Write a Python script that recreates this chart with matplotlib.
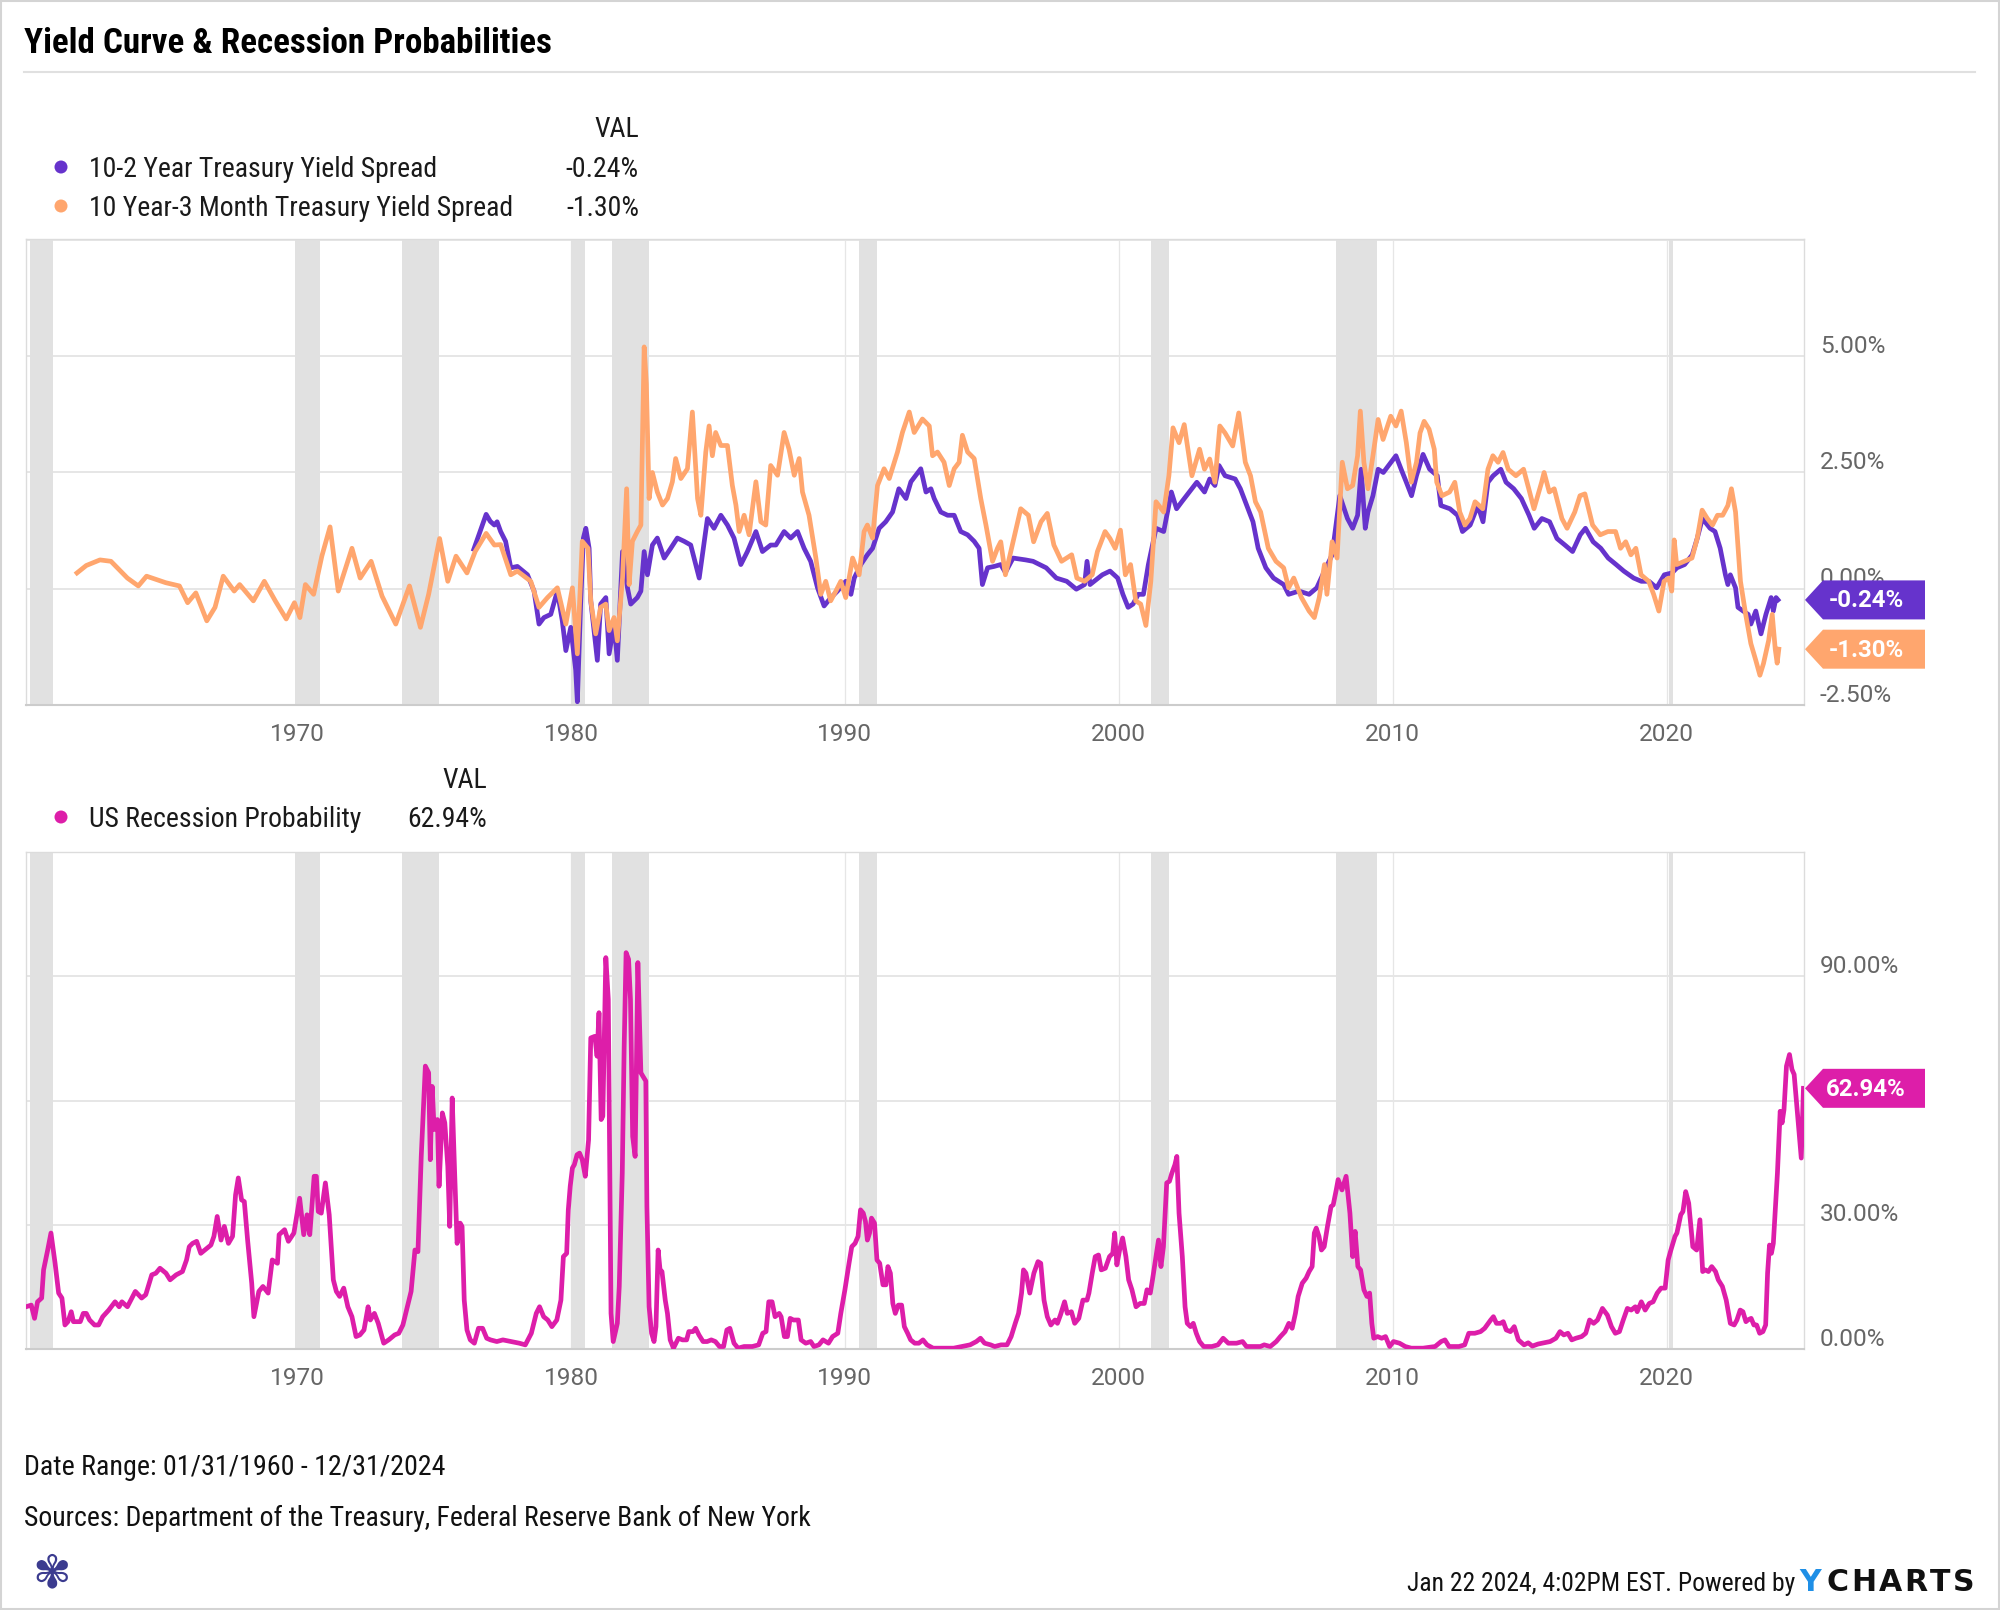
import matplotlib
matplotlib.use('Agg')
import matplotlib.pyplot as plt
from matplotlib import font_manager as fm
from matplotlib.transforms import IdentityTransform, blended_transform_factory, offset_copy
from matplotlib.patches import Polygon, Circle, Rectangle
from matplotlib.lines import Line2D

# ---------------- DATA ----------------
title = "Yield Curve & Recession Probabilities"
series_names = ["10-2 Year Treasury Yield Spread", "10 Year-3 Month Treasury Yield Spread", "US Recession Probability"]
x_tick_years = [1970, 1980, 1990, 2000, 2010, 2020]
top_y_ticks = [-2.5, 0.0, 2.5, 5.0, 7.5]
top_y_labels = [-2.5, 0.0, 2.5, 5.0]
bot_y_ticks = [0, 30, 60, 90]
bot_y_labels = [0, 30, 90]   # 60.00% sits under the value badge in the reference

recessions = [(1960.25, 1961.083), (1969.917, 1970.833), (1973.833, 1975.167), (1980.0, 1980.5),
              (1981.5, 1982.833), (1990.5, 1991.167), (2001.167, 2001.833), (2007.917, 2009.417),
              (2020.083, 2020.25)]

spread_10_2_dates = [1976.45, 1976.6, 1976.9, 1977.05, 1977.2, 1977.3, 1977.43, 1977.61, 1977.80, 1978.04,
    1978.41, 1978.65, 1978.83, 1979.01, 1979.26, 1979.50, 1979.68, 1979.81, 1979.99, 1980.17, 1980.23,
    1980.35, 1980.45, 1980.54, 1980.66, 1980.72, 1980.96, 1981.08, 1981.27, 1981.39, 1981.57, 1981.69,
    1981.88, 1982.06, 1982.18, 1982.42, 1982.55, 1982.67, 1982.79, 1982.97, 1983.15, 1983.40, 1983.64,
    1983.88, 1984.13, 1984.37, 1984.68, 1984.98, 1985.22, 1985.47, 1985.71, 1985.95, 1986.20, 1986.44,
    1986.75, 1986.99, 1987.29, 1987.48, 1987.78, 1988.02, 1988.27, 1988.51, 1988.75, 1989.00, 1989.24,
    1989.49, 1989.73, 1990.03, 1990.22, 1990.34, 1990.58, 1990.82, 1991.01, 1991.25, 1991.49, 1991.74,
    1991.97, 1992.23, 1992.41, 1992.59, 1992.77, 1992.96, 1993.14, 1993.26, 1993.50, 1993.75, 1993.99,
    1994.23, 1994.48, 1994.72, 1994.90, 1995.02, 1995.21, 1995.45, 1995.69,
    1995.86, 1996.14, 1996.6, 1996.87, 1997.35, 1997.72, 1998.1, 1998.45, 1998.75, 1998.84, 1998.95,
    1999.4, 1999.68, 1999.96, 2000.15, 2000.34, 2000.52, 2000.71, 2000.9, 2001.08, 2001.36, 2001.64,
    2001.92, 2002.11, 2002.3, 2002.67, 2002.85, 2003.13, 2003.32, 2003.51, 2003.66, 2003.88, 2004.25,
    2004.44, 2004.72, 2004.9, 2005.09, 2005.37, 2005.65, 2006.02, 2006.2, 2006.58, 2006.95, 2007.23,
    2007.51, 2007.79, 2008.07, 2008.35, 2008.54, 2008.72, 2008.85, 2009.0, 2009.1, 2009.28, 2009.47,
    2009.66, 2009.94, 2010.12, 2010.31, 2010.5, 2010.69, 2010.87, 2011.11, 2011.35, 2011.63, 2011.76,
    2012.09, 2012.37, 2012.55, 2012.83, 2013.11, 2013.3, 2013.48, 2013.67, 2013.95, 2014.14, 2014.42,
    2014.7, 2014.98, 2015.17, 2015.45, 2015.73, 2016.0, 2016.29, 2016.57, 2016.85, 2017.04, 2017.32,
    2017.6, 2017.87, 2018.16, 2018.44, 2018.8, 2019.08, 2019.36, 2019.64, 2019.92, 2020.2, 2020.38,
    2020.66, 2020.94, 2021.12, 2021.31, 2021.59, 2021.77, 2021.96, 2022.15, 2022.24, 2022.33, 2022.52,
    2022.61, 2022.8, 2022.98, 2023.08, 2023.26, 2023.45, 2023.63, 2023.82, 2023.9, 2024.0, 2024.07]
spread_10_2_values = [0.85, 1.10, 1.60, 1.45, 1.37, 1.44, 1.23, 1.02, 0.45, 0.48,
    0.30, -0.05, -0.76, -0.62, -0.55, -0.05, -0.69, -1.33, -0.83, -1.75, -2.43,
    -0.33, 1.09, 1.30, 0.87, -0.26, -1.54, -0.33, -0.19, -1.40, -0.76, -1.54,
    0.80, 0.02, -0.33, -0.19, -0.05, 0.80, 0.30, 0.94, 1.09, 0.66, 0.87,
    1.09, 1.02, 0.94, 0.23, 1.51, 1.30, 1.58, 1.37, 1.09, 0.52, 0.80,
    1.23, 0.80, 0.94, 0.94, 1.23, 1.09, 1.23, 0.87, 0.59, 0.02, -0.37,
    -0.19, -0.05, 0.16, -0.12, 0.23, 0.52, 0.73, 0.87, 1.30, 1.44, 1.65,
    2.15, 1.94, 2.30, 2.44, 2.58, 2.08, 2.15, 1.94, 1.65, 1.58, 1.58,
    1.23, 1.16, 1.02, 0.87, 0.09, 0.45, 0.48, 0.52,
    0.35, 0.66, 0.62, 0.59, 0.45, 0.23, 0.16, -0.01, 0.09, 0.59, 0.09,
    0.30, 0.38, 0.23, -0.12, -0.40, -0.33, -0.12, -0.12, 0.52, 1.30, 1.23,
    2.08, 1.72, 1.87, 2.15, 2.29, 2.08, 2.36, 2.22, 2.65, 2.43, 2.36,
    2.15, 1.72, 1.44, 0.87, 0.45, 0.23, 0.09, -0.12, -0.05, -0.12, 0.02,
    0.38, 0.73, 2.00, 1.51, 1.30, 1.58, 2.57, 1.30, 1.65, 2.00, 2.57,
    2.50, 2.72, 2.86, 2.57, 2.29, 2.00, 2.43, 2.89, 2.57, 2.43, 1.79,
    1.72, 1.58, 1.23, 1.37, 1.79, 1.44, 2.29, 2.43, 2.57, 2.29, 2.15,
    1.94, 1.58, 1.30, 1.51, 1.44, 1.08, 0.94, 0.80, 1.16, 1.30, 1.01,
    0.87, 0.66, 0.52, 0.38, 0.23, 0.16, 0.16, 0.02, 0.30, 0.34, 0.45,
    0.52, 0.73, 1.08, 1.51, 1.30, 1.23, 0.87, 0.30, 0.09, 0.30, 0.02,
    -0.40, -0.48, -0.55, -0.76, -0.48, -0.97, -0.55, -0.19, -0.48, -0.19, -0.24]

spread_10y_3m_dates = [1961.96, 1962.3, 1962.8, 1963.2, 1963.8, 1964.2, 1964.5, 1965.2, 1965.7, 1966.0,
    1966.3, 1966.7, 1967.0, 1967.3, 1967.7, 1967.9, 1968.4, 1968.8, 1969.2, 1969.6, 1969.9, 1970.1,
    1970.3, 1970.6, 1970.9, 1971.2, 1971.5, 1972.0, 1972.3, 1972.7, 1973.1, 1973.6, 1974.1, 1974.5,
    1974.8, 1975.2, 1975.5, 1975.8, 1976.2, 1976.5, 1976.9, 1977.2,
    1977.43, 1977.80, 1978.04, 1978.53, 1978.83, 1979.14, 1979.50, 1979.81, 1980.05, 1980.23, 1980.41,
    1980.62, 1980.72, 1980.90, 1981.08, 1981.27, 1981.39, 1981.57, 1981.69, 1981.88, 1982.03, 1982.12,
    1982.24, 1982.42, 1982.55, 1982.67, 1982.75, 1982.85, 1982.97, 1983.15, 1983.34, 1983.52, 1983.70,
    1983.82, 1984.01, 1984.25, 1984.43, 1984.62, 1984.74, 1984.92, 1985.04, 1985.16, 1985.28, 1985.47,
    1985.71, 1985.89, 1986.02, 1986.14, 1986.32, 1986.50, 1986.75, 1986.93, 1987.11, 1987.29, 1987.54,
    1987.78, 1987.96, 1988.15, 1988.33, 1988.45, 1988.69, 1988.94, 1989.12, 1989.30, 1989.48, 1989.67,
    1989.85, 1990.03, 1990.28, 1990.52, 1990.70, 1990.82, 1991.01, 1991.19, 1991.43, 1991.62, 1991.92,
    1992.10, 1992.35, 1992.53, 1992.83, 1993.08, 1993.20, 1993.38, 1993.62, 1993.81, 1993.99, 1994.17,
    1994.29, 1994.48, 1994.72, 1994.96, 1995.15, 1995.39, 1995.57,
    1995.69, 1995.86, 1996.14, 1996.42, 1996.7, 1996.89, 1997.16, 1997.39, 1997.63, 1997.91, 1998.28,
    1998.47, 1998.75, 1999.03, 1999.22, 1999.5, 1999.68, 1999.87, 2000.06, 2000.24, 2000.43, 2000.62,
    2000.8, 2000.99, 2001.17, 2001.36, 2001.64, 2001.83, 2001.98, 2002.2, 2002.39, 2002.67, 2002.95,
    2003.13, 2003.32, 2003.51, 2003.69, 2003.88, 2004.16, 2004.38, 2004.62, 2004.81, 2004.99, 2005.18,
    2005.46, 2005.74, 2006.02, 2006.2, 2006.39, 2006.67, 2006.95, 2007.14, 2007.32, 2007.51, 2007.6,
    2007.79, 2007.97, 2008.16, 2008.35, 2008.54, 2008.72, 2008.82, 2008.95, 2009.1, 2009.28, 2009.47,
    2009.65, 2009.93, 2010.12, 2010.31, 2010.5, 2010.68, 2010.87, 2011.0, 2011.15, 2011.33, 2011.52,
    2011.61, 2011.8, 2012.08, 2012.27, 2012.45, 2012.64, 2012.82, 2013.01, 2013.29, 2013.48, 2013.66,
    2013.85, 2014.03, 2014.22, 2014.5, 2014.78, 2014.97, 2015.16, 2015.44, 2015.53, 2015.72, 2015.9,
    2016.18, 2016.37, 2016.65, 2016.84, 2017.02, 2017.3, 2017.58, 2017.86, 2018.14, 2018.32, 2018.51,
    2018.7, 2018.88, 2019.07, 2019.35, 2019.53, 2019.72, 2019.91, 2020.09, 2020.19, 2020.28, 2020.37,
    2020.65, 2020.93, 2021.12, 2021.3, 2021.49, 2021.68, 2021.86, 2022.05, 2022.24, 2022.37, 2022.52,
    2022.7, 2022.89, 2023.08, 2023.26, 2023.41, 2023.54, 2023.73, 2023.86, 2023.97, 2024.04, 2024.1]
spread_10y_3m_values = [0.34, 0.50, 0.62, 0.59, 0.23, 0.06, 0.27, 0.13, 0.06, -0.30,
    -0.09, -0.69, -0.40, 0.27, -0.05, 0.09, -0.26, 0.16, -0.26, -0.65, -0.30, -0.62,
    0.09, -0.12, 0.70, 1.33, -0.05, 0.87, 0.23, 0.59, -0.16, -0.76, 0.06, -0.83,
    -0.12, 1.08, 0.16, 0.70, 0.34, 0.80, 1.19, 0.94,
    0.95, 0.30, 0.38, 0.16, -0.40, -0.19, 0.02, -0.76, 0.02, -1.40, 1.02,
    0.87, -0.26, -0.97, -0.40, -0.33, -0.90, -0.62, -1.12, 0.23, 2.15, 0.09,
    1.02, 1.23, 1.37, 5.20, 4.40, 1.94, 2.50, 2.08, 1.80, 1.94, 2.30,
    2.80, 2.37, 2.58, 3.80, 1.94, 1.58, 2.94, 3.50, 2.86, 3.36, 3.08,
    3.08, 2.22, 1.80, 1.23, 1.58, 1.16, 2.30, 1.44, 1.37, 2.65, 2.44,
    3.36, 3.00, 2.44, 2.80, 2.08, 1.58, 0.66, -0.12, 0.16, -0.26, -0.05,
    0.16, -0.19, 0.66, 0.30, 1.23, 1.37, 1.09, 2.22, 2.58, 2.37, 2.94,
    3.36, 3.80, 3.36, 3.65, 3.50, 2.86, 2.94, 2.72, 2.22, 2.58, 2.72,
    3.30, 2.94, 2.80, 1.94, 1.37, 0.59, 0.87,
    1.01, 0.30, 1.01, 1.72, 1.58, 1.01, 1.44, 1.62, 0.94, 0.59, 0.73,
    0.23, 0.16, 0.30, 0.80, 1.23, 1.08, 0.87, 1.26, 0.30, 0.52, -0.26,
    -0.33, -0.79, 0.16, 1.87, 1.65, 2.43, 3.46, 3.14, 3.53, 2.43, 3.00,
    2.57, 2.79, 2.29, 3.50, 3.35, 3.07, 3.78, 2.72, 2.43, 1.87, 1.65,
    0.87, 0.59, 0.45, 0.02, 0.23, -0.19, -0.48, -0.62, -0.19, 0.52, -0.12,
    1.01, 0.66, 2.72, 2.15, 2.22, 2.86, 3.82, 2.72, 2.15, 2.86, 3.64,
    3.21, 3.71, 3.50, 3.82, 3.14, 2.29, 2.72, 3.35, 3.60, 3.43, 3.00,
    2.29, 2.00, 2.08, 2.29, 1.65, 1.37, 1.51, 1.87, 1.72, 2.57, 2.86,
    2.72, 2.93, 2.57, 2.43, 2.57, 2.15, 1.72, 2.29, 2.50, 2.08, 2.15,
    1.51, 1.30, 1.65, 2.00, 2.04, 1.37, 1.16, 1.23, 1.23, 0.87, 1.01,
    0.73, 0.87, 0.30, 0.16, -0.12, -0.48, 0.16, 0.23, -0.05, 1.05, 0.52,
    0.59, 0.66, 1.08, 1.69, 1.51, 1.37, 1.58, 1.58, 1.79, 2.15, 1.65,
    0.16, -0.55, -1.18, -1.54, -1.86, -1.61, -1.11, -0.55, -1.30, -1.60, -1.30]

recession_prob_dates = [1960.10, 1960.29, 1960.41, 1960.52, 1960.67, 1960.74, 1960.89, 1961.01, 1961.16,
    1961.29, 1961.41, 1961.52, 1961.63, 1961.75, 1961.83, 1962.08, 1962.19, 1962.30, 1962.42, 1962.60,
    1962.75, 1962.90, 1963.12, 1963.35, 1963.50, 1963.60, 1963.80, 1964.09, 1964.32, 1964.47, 1964.69,
    1964.84, 1964.99, 1965.21, 1965.36, 1965.58, 1965.81, 1965.96, 1966.06, 1966.18, 1966.33, 1966.48,
    1966.63, 1966.85, 1966.96, 1967.08, 1967.22, 1967.34, 1967.49, 1967.64, 1967.75, 1967.85, 1967.97,
    1968.07, 1968.19, 1968.34, 1968.42, 1968.60, 1968.75, 1968.94, 1969.09, 1969.28, 1969.34, 1969.54,
    1969.68, 1969.88, 1970.09, 1970.24, 1970.36, 1970.46, 1970.62, 1970.70, 1970.77, 1970.88, 1971.03,
    1971.17, 1971.32, 1971.43, 1971.55, 1971.70, 1971.85, 1972.00, 1972.15, 1972.29, 1972.44, 1972.59,
    1972.67, 1972.82, 1972.96, 1973.16, 1973.34, 1973.56, 1973.71, 1973.86, 1974.01, 1974.16, 1974.30,
    1974.41, 1974.53, 1974.68, 1974.80, 1974.86, 1974.93, 1975.00, 1975.12, 1975.18, 1975.30, 1975.39,
    1975.50, 1975.57, 1975.66, 1975.75, 1975.84, 1975.95, 1976.02, 1976.10, 1976.20, 1976.32, 1976.47,
    1976.62, 1976.77, 1976.92, 1977.06, 1977.29, 1977.51, 1977.81, 1978.11, 1978.33, 1978.55, 1978.73,
    1978.85, 1979.00, 1979.15, 1979.30, 1979.48, 1979.63, 1979.72, 1979.84, 1979.90, 1979.97, 1980.05,
    1980.12, 1980.22, 1980.31, 1980.41, 1980.52, 1980.64, 1980.72, 1980.87, 1980.95, 1981.02, 1981.10,
    1981.16, 1981.27, 1981.36, 1981.46, 1981.54, 1981.69, 1981.76, 1981.87, 1981.94, 1982.01, 1982.10,
    1982.17, 1982.25, 1982.34, 1982.44, 1982.55, 1982.62, 1982.73, 1982.77, 1982.85, 1982.94, 1983.03,
    1983.10, 1983.18, 1983.25, 1983.32, 1983.44, 1983.52, 1983.62, 1983.74, 1983.92, 1984.07, 1984.22,
    1984.30, 1984.45, 1984.55, 1984.67, 1984.82, 1984.97, 1985.12, 1985.27, 1985.42, 1985.57, 1985.69,
    1985.80, 1985.95, 1986.10, 1986.32, 1986.62, 1986.85, 1987.00, 1987.12, 1987.22, 1987.34, 1987.45,
    1987.60, 1987.67, 1987.79, 1987.90, 1988.00, 1988.12, 1988.30, 1988.40, 1988.57, 1988.75, 1988.87,
    1989.05, 1989.20, 1989.40, 1989.55, 1989.74, 1989.85, 1990.00, 1990.15, 1990.25, 1990.37, 1990.48,
    1990.57, 1990.67, 1990.75, 1990.82, 1990.90, 1990.97, 1991.08, 1991.17, 1991.27, 1991.39, 1991.50,
    1991.57, 1991.66, 1991.75, 1991.84, 1991.95, 1992.07, 1992.17, 1992.29, 1992.40, 1992.55, 1992.70,
    1992.85, 1993.00, 1993.22, 1993.52, 1993.97, 1994.27, 1994.57, 1994.80, 1994.95, 1995.10, 1995.32,
    1995.47, 1995.70, 1995.92, 1996.07, 1996.22, 1996.34, 1996.45, 1996.52, 1996.61, 1996.75, 1996.90,
    1997.05, 1997.15, 1997.27, 1997.39, 1997.52, 1997.67, 1997.76, 1997.87, 1998.02, 1998.12, 1998.27,
    1998.39, 1998.54, 1998.69, 1998.84, 1998.91, 1999.03, 1999.14, 1999.26, 1999.36, 1999.51, 1999.66,
    1999.78, 1999.85, 1999.93, 2000.03, 2000.14, 2000.26, 2000.36, 2000.48, 2000.63, 2000.78, 2000.93,
    2001.03, 2001.15, 2001.23, 2001.45, 2001.54, 2001.63, 2001.75, 2001.85, 2001.94, 2002.05, 2002.12,
    2002.20, 2002.32, 2002.42, 2002.50, 2002.62, 2002.72, 2002.83, 2002.95, 2003.10, 2003.40, 2003.62,
    2003.81, 2004.00, 2004.30, 2004.52, 2004.66, 2005.17, 2005.31, 2005.53, 2005.75, 2005.90, 2006.07,
    2006.21, 2006.33, 2006.45, 2006.55, 2006.70, 2006.84, 2006.95, 2007.06, 2007.14, 2007.21, 2007.31,
    2007.40, 2007.50, 2007.62, 2007.75, 2007.83, 2007.94, 2008.01, 2008.15, 2008.30, 2008.44, 2008.54,
    2008.63, 2008.73, 2008.83, 2008.95, 2009.06, 2009.16, 2009.24, 2009.31, 2009.45, 2009.60, 2009.74,
    2009.89, 2010.03, 2010.25, 2010.46, 2010.68, 2011.11, 2011.55, 2011.77, 2011.91, 2012.06, 2012.42,
    2012.63, 2012.78, 2013.00, 2013.21, 2013.36, 2013.58, 2013.68, 2013.79, 2013.94, 2014.04, 2014.15,
    2014.30, 2014.44, 2014.59, 2014.80, 2014.95, 2015.10, 2015.31, 2015.53, 2015.75, 2015.96, 2016.11,
    2016.25, 2016.40, 2016.54, 2016.69, 2016.90, 2017.05, 2017.19, 2017.34, 2017.48, 2017.66, 2017.84,
    2017.99, 2018.13, 2018.28, 2018.42, 2018.57, 2018.71, 2018.86, 2018.93, 2019.08, 2019.22, 2019.37,
    2019.51, 2019.66, 2019.80, 2019.95, 2020.06, 2020.16, 2020.31, 2020.38, 2020.52, 2020.60, 2020.70,
    2020.81, 2020.96, 2021.10, 2021.22, 2021.32, 2021.42, 2021.53, 2021.65, 2021.79, 2021.89, 2022.04,
    2022.18, 2022.33, 2022.47, 2022.57, 2022.69, 2022.79, 2022.90, 2022.97, 2023.09, 2023.19, 2023.29,
    2023.40, 2023.52, 2023.62, 2023.69, 2023.76, 2023.83, 2023.90, 2024.05, 2024.15, 2024.22, 2024.29,
    2024.38, 2024.49, 2024.58, 2024.66, 2024.76, 2024.83, 2024.92, 2025.0]
recession_prob_values = [10.2, 10.6, 7.4, 11.4, 12.3, 19.1, 23.9, 28.0, 20.7,
    13.5, 12.3, 5.8, 6.6, 9.0, 6.6, 6.6, 8.6, 8.6, 7.0, 5.8,
    5.8, 7.8, 9.4, 11.4, 10.2, 11.4, 10.2, 13.9, 12.3, 13.1, 17.9,
    18.3, 19.5, 18.3, 16.7, 17.9, 18.7, 21.5, 24.7, 25.5, 26.0, 23.1,
    23.9, 25.1, 27.2, 32.0, 26.3, 29.6, 25.5, 27.2, 37.2, 41.3, 36.0,
    35.6, 26.3, 15.9, 7.8, 13.9, 15.1, 13.5, 21.5, 20.7, 27.6, 28.8,
    26.0, 28.0, 36.4, 27.6, 32.4, 27.6, 41.7, 41.7, 33.2, 32.8, 40.1,
    32.4, 16.7, 13.9, 12.7, 14.7, 10.2, 7.8, 3.0, 3.4, 4.6, 10.2,
    7.0, 8.6, 6.2, 1.4, 2.2, 3.4, 3.8, 5.8, 9.8, 13.9, 23.9,
    23.5, 46.5, 68.3, 66.7, 45.7, 63.4, 53.0, 55.4, 39.3, 57.0, 54.6,
    44.1, 29.6, 60.6, 42.5, 25.5, 30.4, 29.6, 11.8, 4.6, 2.2, 1.4,
    5.0, 5.0, 2.6, 2.2, 1.8, 2.2, 1.8, 1.4, 1.0, 3.8, 8.6,
    10.2, 7.8, 7.0, 5.4, 7.0, 11.8, 22.3, 23.1, 33.6, 39.3, 43.7,
    44.5, 46.9, 47.3, 45.7, 41.7, 50.5, 75.1, 75.5, 70.7, 81.2, 55.4,
    56.2, 94.5, 84.4, 8.6, 1.8, 6.2, 15.1, 42.5, 73.1, 95.7, 94.1,
    84.4, 51.3, 46.5, 93.3, 66.7, 65.9, 64.7, 34.4, 10.2, 3.8, 1.8,
    5.4, 23.9, 19.1, 18.7, 11.8, 8.6, 2.2, 0.2, 2.6, 2.2, 2.2,
    4.2, 4.2, 5.0, 3.4, 1.8, 1.8, 2.2, 1.8, 0.6, 0.6, 4.6,
    5.0, 1.4, 0.2, 0.6, 0.6, 1.0, 3.8, 4.2, 11.4, 11.4, 7.8,
    8.6, 7.8, 3.0, 3.0, 7.4, 7.0, 7.0, 2.2, 1.4, 1.8, 0.6,
    1.0, 2.2, 1.4, 3.0, 3.8, 8.6, 14.3, 20.7, 24.7, 25.5, 27.2,
    33.6, 32.8, 30.8, 26.3, 28.0, 31.6, 30.4, 21.5, 20.7, 15.5, 15.5,
    19.9, 18.3, 11.0, 8.6, 10.6, 10.6, 5.4, 3.8, 2.2, 1.4, 1.4,
    2.2, 1.0, 0.2, 0.2, 0.2, 0.6, 1.0, 1.8, 2.6, 1.4, 1.0,
    0.6, 1.0, 1.0, 3.0, 6.2, 8.6, 13.5, 19.1, 18.3, 13.5, 18.3,
    21.1, 20.7, 11.8, 7.8, 5.8, 7.0, 6.2, 8.2, 11.4, 8.6, 9.0,
    6.2, 7.4, 11.8, 11.8, 13.5, 18.3, 22.3, 22.7, 19.1, 19.5, 22.3,
    23.1, 28.0, 20.3, 23.9, 26.8, 22.3, 16.7, 14.3, 10.2, 11.0, 11.0,
    14.3, 13.5, 16.7, 26.3, 19.9, 24.7, 40.1, 40.5, 42.5, 44.5, 46.5,
    32.8, 22.3, 10.2, 6.2, 5.4, 6.2, 3.8, 1.8, 0.6, 0.6, 1.0,
    2.6, 1.4, 1.4, 1.8, 0.6, 0.6, 1.0, 0.6, 1.8, 3.0, 4.2,
    6.2, 5.0, 8.6, 12.7, 15.9, 17.1, 18.7, 19.9, 28.0, 29.2, 27.2,
    23.9, 24.7, 29.6, 34.4, 34.8, 38.4, 40.9, 38.4, 41.7, 32.8, 22.3,
    28.4, 19.9, 19.1, 14.3, 12.7, 13.5, 6.2, 2.6, 3.0, 2.6, 3.0,
    0.6, 1.8, 1.4, 0.6, 0.2, 0.2, 0.6, 1.8, 2.2, 0.6, 0.6,
    1.0, 3.8, 3.8, 4.2, 5.0, 7.0, 7.8, 6.2, 6.2, 6.6, 4.6,
    4.2, 5.4, 2.2, 1.0, 1.5, 0.7, 1.2, 1.5, 1.8, 2.6, 4.2,
    3.4, 3.8, 2.2, 2.6, 3.0, 3.8, 7.0, 6.2, 7.0, 9.8, 8.2,
    5.4, 3.8, 4.2, 7.0, 9.8, 9.4, 10.2, 9.0, 11.4, 9.4, 11.0,
    11.4, 13.5, 14.7, 14.7, 21.5, 23.9, 27.2, 28.0, 32.4, 33.2, 38.0,
    35.2, 24.7, 23.9, 31.2, 18.7, 19.1, 18.7, 19.9, 18.7, 16.7, 15.1,
    11.8, 6.2, 5.8, 7.0, 9.4, 9.0, 6.6, 7.0, 7.4, 5.8, 5.8,
    3.8, 4.2, 5.8, 18.3, 25.1, 23.1, 25.5, 42.5, 57.4, 54.6, 57.8,
    68.3, 71.1, 67.5, 66.3, 58.6, 53.0, 46.1, 62.94]

date_range_text = "Date Range: 01/31/1960 - 12/31/2024"
sources_text = "Sources: Department of the Treasury, Federal Reserve Bank of New York"
stamp_text = "Jan 22 2024, 4:02PM EST. Powered by"

# ---------------- STYLE ----------------
names = {f.name for f in fm.fontManager.ttflist}
def pick(*cands):
    for c in cands:
        if c in names:
            return c
    return 'DejaVu Sans'
FONT = pick('Roboto Condensed', 'Liberation Sans Narrow', 'Roboto')
AXFONT = pick('Roboto', 'DejaVu Sans')
plt.rcParams['font.family'] = [FONT, 'DejaVu Sans']

PURPLE = '#6633cc'
ORANGE = '#ffa66e'
PINK = '#dd1ea9'
BAND = '#e1e1e1'
GRID = '#e6e6e6'
TICKC = '#666666'
PX = 0.72  # px -> pt at 100 dpi
LW = 3.4

W, H = 2000, 1610
fig = plt.figure(figsize=(W / 100, H / 100), dpi=100)
fig.patch.set_facecolor('white')
ID = IdentityTransform()

def rect(left, top, right, bottom):
    return [left / W, 1 - bottom / H, (right - left) / W, (bottom - top) / H]

ax1 = fig.add_axes(rect(25.5, 239.5, 1804, 705))
ax2 = fig.add_axes(rect(25.5, 852, 1804, 1349))

XL = (1960.08, 2025.02)

def style_axes(ax, yticks, ylim):
    ax.set_xlim(*XL)
    ax.set_ylim(*ylim)
    ax.set_facecolor('white')
    for s in ('top', 'left', 'right'):
        ax.spines[s].set_color('#dcdcdc')
        ax.spines[s].set_linewidth(1.0)
    ax.spines['bottom'].set_color('#cccccc')
    ax.spines['bottom'].set_linewidth(1.5)
    ax.set_yticks(yticks)
    ax.set_xticks(x_tick_years)
    ax.set_xticklabels([str(y) for y in x_tick_years], fontfamily=AXFONT)
    ax.tick_params(axis='y', length=0, labelleft=False, labelright=False)
    ax.tick_params(axis='x', length=0, pad=13, labelsize=24.4 * PX, labelcolor=TICKC)
    ax.grid(axis='y', color=GRID, linewidth=1.4, zorder=0)
    ax.grid(axis='x', color=GRID, linewidth=0.9, zorder=0)
    ax.set_axisbelow(True)
    for s, e in recessions:
        ax.axvspan(s, e, color=BAND, lw=0, zorder=1)

style_axes(ax1, top_y_ticks, (-2.436, 7.51))
style_axes(ax2, bot_y_ticks + [120], (0, 119.6))

ax1.plot(spread_10_2_dates, spread_10_2_values, color=PURPLE, lw=LW, zorder=3, solid_joinstyle='round')
ax1.plot(spread_10y_3m_dates, spread_10y_3m_values, color=ORANGE, lw=LW, zorder=4, solid_joinstyle='round')
ax2.plot(recession_prob_dates, recession_prob_values, color=PINK, lw=LW, zorder=3, solid_joinstyle='round')

# right-side y labels (drawn a bit above their gridlines)
def ylabels(ax, ticks):
    tr = offset_copy(blended_transform_factory(ax.transAxes, ax.transData), fig=fig, x=0, y=3.5, units='dots')
    xa = (1820 - 25.5) / (1804 - 25.5)
    for t in ticks:
        ax.text(xa, t, f"{t:.2f}%", transform=tr, ha='left', va='baseline', fontsize=24.4 * PX,
                color=TICKC, clip_on=False, fontfamily=AXFONT)

ylabels(ax1, top_y_labels)
ylabels(ax2, bot_y_labels)

# value badges at the right edge
def badge(ax, v, color):
    yc = ax.transData.transform((XL[1], v))[1]
    xr = ax.transAxes.transform((1, 0))[0] + 1
    h = 19.5
    poly = Polygon([[xr, yc], [xr + 18, yc + h], [xr + 120, yc + h], [xr + 120, yc - h], [xr + 18, yc - h]],
                   closed=True, transform=ID, facecolor=color, edgecolor='none', zorder=10)
    fig.add_artist(poly)
    fig.text(xr + 61, yc - 7.5, f"{v:.2f}%", transform=ID, ha='center', va='baseline', color='white',
             fontsize=24 * PX, fontweight='bold', fontfamily=AXFONT, zorder=11)

badge(ax1, spread_10_2_values[-1], PURPLE)
badge(ax1, spread_10y_3m_values[-1], ORANGE)
badge(ax2, recession_prob_values[-1], PINK)

# ---------------- TEXT / DECOR ----------------
def T(x, y, s, **kw):
    return fig.text(x, H - y, s, transform=ID, **kw)

T(24, 53, title, fontsize=35 * PX, fontweight='bold', color='#000000', ha='left', va='baseline')
fig.add_artist(Line2D([24, 1975], [H - 72, H - 72], transform=ID, color='#e0e0e0', lw=1.5))

LEG = 27.8 * PX
def legend_row(y_base, x_val, label, value, color):
    fig.add_artist(Circle((61, H - (y_base - 10)), 6.5, transform=ID, facecolor=color, edgecolor='none'))
    T(89, y_base, label, fontsize=LEG, color='#1a1a1a', ha='left', va='baseline')
    T(x_val, y_base, value, fontsize=LEG, color='#1a1a1a', ha='right', va='baseline')

T(639, 137, "VAL", fontsize=LEG, color='#1a1a1a', ha='right', va='baseline')
legend_row(177, 639, series_names[0], f"{spread_10_2_values[-1]:.2f}%", PURPLE)
legend_row(216, 639, series_names[1], f"{spread_10y_3m_values[-1]:.2f}%", ORANGE)
T(487, 788, "VAL", fontsize=LEG, color='#1a1a1a', ha='right', va='baseline')
legend_row(827, 487, series_names[2], f"{recession_prob_values[-1]:.2f}%", PINK)

T(24, 1475, date_range_text, fontsize=28 * PX, color='#111111', ha='left', va='baseline')
T(24, 1526, sources_text, fontsize=27.7 * PX, color='#111111', ha='left', va='baseline')
T(1795, 1591, stamp_text, fontsize=25.6 * PX, color='#111111', ha='right', va='baseline')

# YCHARTS wordmark (letters placed with extra tracking)
wm_size = 30
advances = {'C': 0.748, 'H': 0.836, 'A': 0.774, 'R': 0.770, 'T': 0.683, 'S': 0.720}
T(1799, 1591, 'Y', fontsize=wm_size * PX, fontweight='bold', family='DejaVu Sans', color='#1f8fe6',
  ha='left', va='baseline')
cx = 1826
for ch in "CHARTS":
    T(cx, 1591, ch, fontsize=wm_size * PX, fontweight='bold', family='DejaVu Sans', color='#111111',
      ha='left', va='baseline')
    cx += advances[ch] * wm_size + 2.5

# small swirl logo bottom-left
T(52, 1587, '\u273E', fontsize=46 * PX, family='DejaVu Sans', color='#3b3b8f', ha='center', va='baseline')

# outer frame
fig.add_artist(Rectangle((1, 1), W - 2, H - 2, transform=ID, fill=False, edgecolor='#d4d4d4', lw=1.5))

fig.savefig('out.png', dpi=100, facecolor='white')
